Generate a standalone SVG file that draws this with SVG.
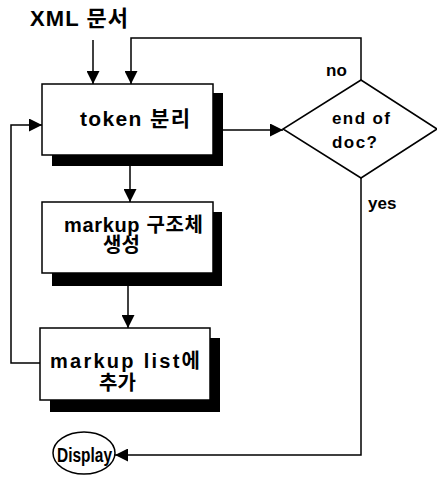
<svg xmlns="http://www.w3.org/2000/svg" width="437" height="479" viewBox="0 0 437 479">
<defs>
<marker id="ah" markerWidth="13" markerHeight="13" refX="13" refY="6.5" orient="auto" markerUnits="userSpaceOnUse">
<path d="M0,0 L13,6.5 L0,13 Z" fill="#000"/>
</marker>
<style>
.t{font-family:"Liberation Sans","Noto Sans CJK KR",sans-serif;font-weight:bold;fill:#000}
.box{fill:#fff;stroke:#000;stroke-width:1.5}
.sh{fill:#000}
.ln{fill:none;stroke:#000;stroke-width:1.5}
</style>
</defs>
<rect width="437" height="479" fill="#fff"/>
<text class="t" x="30" y="26" font-size="22" textLength="98" lengthAdjust="spacing">XML 문서</text>
<g id="connectors">
<line class="ln" x1="93" y1="40" x2="93" y2="84" marker-end="url(#ah)"/>
<polyline class="ln" points="361,80 361,38 131,38 131,84" marker-end="url(#ah)"/>
<line class="ln" x1="223" y1="130" x2="283" y2="130" marker-end="url(#ah)"/>
<line class="ln" x1="130" y1="166" x2="130" y2="202" marker-end="url(#ah)"/>
<line class="ln" x1="128" y1="286" x2="128" y2="328" marker-end="url(#ah)"/>
<polyline class="ln" points="40,363 11,363 11,125 42,125" marker-end="url(#ah)"/>
<polyline class="ln" points="361,178 361,455 115,455" marker-end="url(#ah)"/>
<text class="t" x="326" y="76" font-size="17">no</text>
<text class="t" x="368" y="209" font-size="17">yes</text>
</g>
<g id="token">
<rect class="sh" x="52" y="93" width="171" height="73"/>
<rect class="box" x="42" y="84" width="171" height="71"/>
<text class="t" x="80" y="126" font-size="21" textLength="110" lengthAdjust="spacing">token 분리</text>
</g>
<g id="markup">
<rect class="sh" x="52" y="212" width="170" height="74"/>
<rect class="box" x="42" y="202" width="171" height="71"/>
<text class="t" x="64" y="232" font-size="20" textLength="139" lengthAdjust="spacing">markup 구조체</text>
<text class="t" x="103" y="252" font-size="20">생성</text>
</g>
<g id="list">
<rect class="sh" x="50" y="338" width="170" height="74"/>
<rect class="box" x="40" y="328" width="170" height="72"/>
<text class="t" x="50" y="368" font-size="20" textLength="150" lengthAdjust="spacing">markup list에</text>
<text class="t" x="99" y="390" font-size="20">추가</text>
</g>
<g id="decision">
<polygon class="box" points="361,80 437,129 361,178 283,129"/>
<text class="t" x="332" y="124" font-size="17" textLength="58" lengthAdjust="spacing">end of</text>
<text class="t" x="332" y="148" font-size="17" textLength="45" lengthAdjust="spacing">doc?</text>
</g>
<g id="display">
<ellipse class="box" cx="84" cy="453" rx="31" ry="21"/>
<text class="t" x="57" y="462" font-size="20" textLength="55" lengthAdjust="spacingAndGlyphs">Display</text>
</g>
</svg>
